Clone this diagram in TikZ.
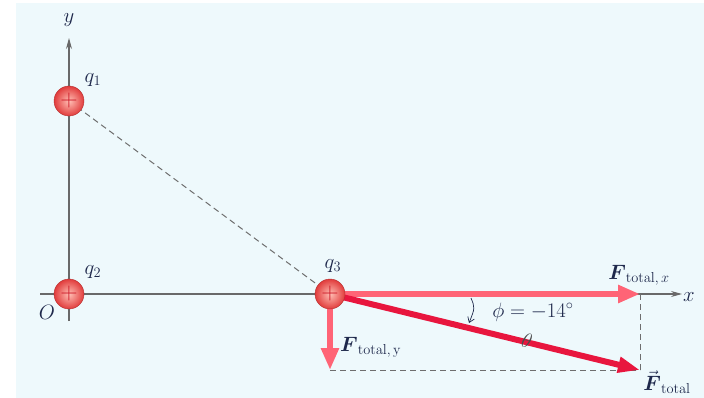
\documentclass[tikz,border=0pt]{standalone}
\usepackage{amsmath}
\usetikzlibrary{arrows.meta}
\definecolor{panel}{RGB}{238,249,252}
\definecolor{axiscol}{RGB}{105,105,105}
\definecolor{dashcol}{RGB}{110,110,110}
\definecolor{labcol}{RGB}{30,40,75}
\definecolor{compcol}{RGB}{255,100,118}
\definecolor{totcol}{RGB}{232,22,62}
\definecolor{ballin}{RGB}{255,190,180}
\definecolor{ballout}{RGB}{225,60,60}
\definecolor{pluscol}{RGB}{205,25,40}
\tikzset{
  lab/.style={font=\fontsize{21}{21}\selectfont, text=labcol, inner sep=0pt},
  charge/.style={circle, minimum size=30pt, inner sep=0pt, shading=radial,
    inner color=ballin, outer color=ballout, draw=ballout!80!black, line width=0.4pt,
    font=\fontsize{24}{24}\selectfont, text=pluscol},
  axisline/.style={draw=axiscol, line width=1.1pt},
  guide/.style={draw=dashcol, line width=1pt, dash pattern=on 6pt off 4pt},
  compvec/.style={draw=compcol, line width=6.5pt, -{Triangle[length=22pt,width=17pt]}},
  totvec/.style={draw=totcol, line width=6pt, -{Triangle[length=22pt,width=15pt]}},
}
\begin{document}
\begin{tikzpicture}[x=1pt,y=-1pt]
\useasboundingbox (0,0) rectangle (704,398);
\fill[panel] (16,3) rectangle (704,398);
% coordinates
\coordinate (xs) at (40,294);
\coordinate (xe) at (682,294);
\coordinate (ys) at (69,321);
\coordinate (ye) at (69,38);
\coordinate (corner) at (330,370);
\coordinate (fx) at (640,294);
\coordinate (ft) at (640,370);
\coordinate (a1) at (471,298);
\coordinate (a2) at (469,323);
% axes
\draw[axisline, -{Stealth[length=11pt,width=6pt]}] (xs) -- (xe);
\draw[axisline, -{Stealth[length=11pt,width=6pt]}] (ys) -- (ye);
% charge positions
\path (69,101) coordinate (c1) (69,294) coordinate (c2) (330,294) coordinate (c3);
% guides
\draw[guide] (c1) -- (c3);
\draw[guide] (corner) -- (ft);
\draw[guide] (fx) -- (ft);
% vectors
\draw[compvec] (c3) -- (fx);
\draw[compvec] (c3) -- (corner);
\draw[totvec] (c3) -- (ft);
% charges
\node[charge] (q1) at (c1) {+};
\node[charge] (q2) at (c2) {+};
\node[charge] (q3) at (c3) {+};
% angle arrow
\draw[labcol, line width=0.7pt, -{Straight Barb[length=5pt,width=7pt]}] (a1) .. controls (475,308) .. (a2);
% labels
\node[lab] (ly) at (69,20) {$y$};
\node[lab] (lq1) at (93,80) {$q_1$};
\node[lab] (lq2) at (93,272) {$q_2$};
\node[lab] (lO) at (47,312) {$O$};
\node[lab] (lq3) at (333,266) {$q_3$};
\node[lab] (lx) at (689,297) {$x$};
\node[lab, anchor=west] (lfy) at (340,347) {$\boldsymbol{F}_{\mathrm{total,\,y}}$};
\node[lab] (lfx) at (639,275) {$\boldsymbol{F}_{\mathrm{total,\,}x}$};
\node[lab] (lft) at (667,382) {$\vec{\boldsymbol{F}}_{\mathrm{total}}$};
\node[lab] (lphi) at (533,312) {$\phi = -14^\circ$};
\node[lab, text=black!70, rotate=-14] (lth) at (527,341) {$\theta$};
\end{tikzpicture}
\end{document}
